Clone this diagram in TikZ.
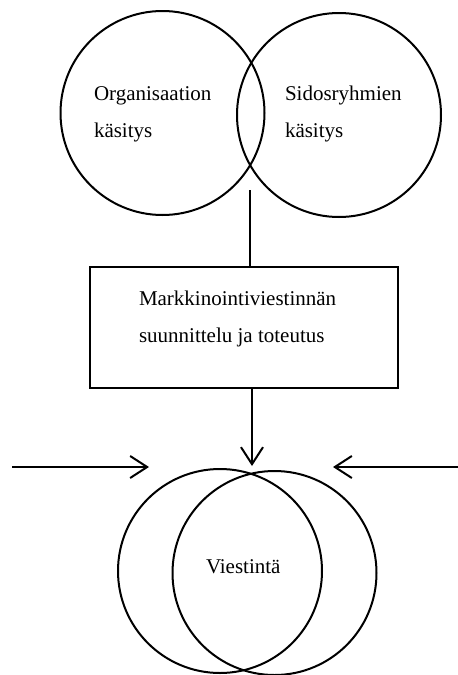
\documentclass[tikz,border=0pt]{standalone}
\usepackage{fontspec}
\setmainfont{Liberation Serif}
\usetikzlibrary{arrows.meta,positioning}
\tikzset{>={Straight Barb[length=17pt,width=22pt]}}
\tikzset{ring/.style={draw,circle,minimum size=204pt,inner sep=0pt},
  lbl/.style={anchor=base west,inner sep=0pt,font=\fontsize{21}{25}\selectfont}}

\begin{document}
\begin{tikzpicture}[x=1pt,y=-1pt,line width=2pt]
        \useasboundingbox (0,0) rectangle (458,675);
        % upper circles
        \node[ring] (org) at (162.5,113) {};
        \node[ring] (sid) at (339,115) {};
        \node[lbl] (orga) at (93,100) {Organisaation};
        \node[lbl] (orgb) at (93,137) {käsitys};
        \node[lbl] (sida) at (284,100) {Sidosryhmien};
        \node[lbl] (sidb) at (284,137) {käsitys};
        % box
        \node[draw,minimum width=308pt,minimum height=121pt] (plan) at (244,327.5) {};
        \node[lbl] (plana) at (138,305) {Markkinointiviestinnän};
        \node[lbl] (planb) at (138,342) {suunnittelu ja toteutus};
        % lower circles
        \node[ring] (vl) at (220,571) {};
        \node[ring] (vr) at (274.5,573) {};
        \node[lbl] (vies) at (205,573) {Viestintä};
        % connectors
        \coordinate (top) at (250,190);
        \coordinate (tip) at (252,466);
        \coordinate (lin) at (12,467);
        \coordinate (lout) at (149,467);
        \coordinate (rin) at (458,467);
        \coordinate (rout) at (333,467);
        \draw (top) -- (plan.north -| top);
        \draw[->] (plan.south -| tip) -- (tip);
        \draw[->] (lin) -- (lout);
        \draw[->] (rin) -- (rout);
\end{tikzpicture}
\end{document}
